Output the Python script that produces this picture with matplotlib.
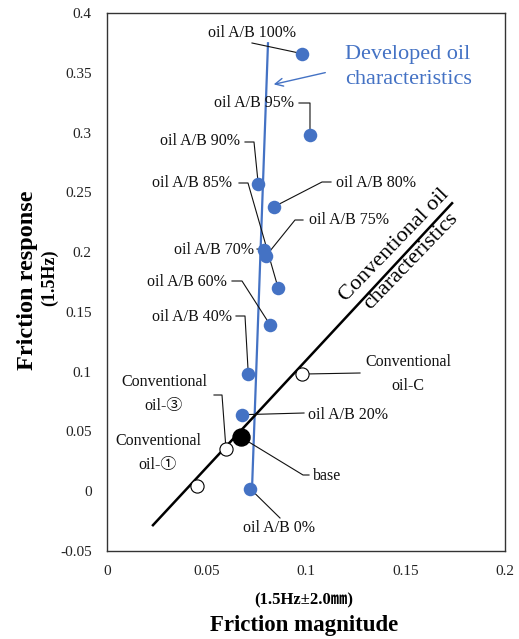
import matplotlib
matplotlib.use("Agg")
import matplotlib.pyplot as plt
import numpy as np

plt.rcParams['font.family'] = ['Liberation Serif', 'Noto Sans CJK JP', 'DejaVu Sans']

# ---------------- data ----------------
dev_labels = ["oil A/B 0%", "oil A/B 20%", "oil A/B 40%", "oil A/B 60%", "oil A/B 70%",
              "oil A/B 75%", "oil A/B 80%", "oil A/B 85%", "oil A/B 90%", "oil A/B 95%",
              "oil A/B 100%"]
dev_x = [0.072, 0.068, 0.071, 0.082, 0.079, 0.080, 0.084, 0.086, 0.076, 0.102, 0.098]
dev_y = [0.002, 0.064, 0.098, 0.139, 0.202, 0.197, 0.238, 0.170, 0.257, 0.298, 0.366]

base_x = [0.0673]
base_y = [0.0452]

conv_labels = ["Conventional\noil-C", "Conventional\noil-③", "Conventional\noil-①"]
conv_x = [0.098, 0.0598, 0.0452]
conv_y = [0.098, 0.0351, 0.0042]

conv_line_x = [0.0231, 0.1734]
conv_line_y = [-0.0284, 0.2409]
dev_line_x = [0.0729, 0.0809]
dev_line_y = [0.0033, 0.3747]

xticks = [0, 0.05, 0.1, 0.15, 0.2]
xticklabels = ["0", "0.05", "0.1", "0.15", "0.2"]
yticks = [-0.05, 0, 0.05, 0.1, 0.15, 0.2, 0.25, 0.3, 0.35, 0.4]
yticklabels = ["-0.05", "0", "0.05", "0.1", "0.15", "0.2", "0.25", "0.3", "0.35", "0.4"]

# ---------------- figure ----------------
W, H = 519, 639
fig = plt.figure(figsize=(W / 100, H / 100), dpi=100)
ax = fig.add_axes([107 / W, 1 - 551 / H, (505 - 107) / W, (551 - 13) / H])
ax.set_xlim(0, 0.2)
ax.set_ylim(-0.05, 0.4)

blue = '#4472C4'

ax.plot(dev_line_x, dev_line_y, color=blue, lw=1.6, zorder=2)
ax.plot(conv_line_x, conv_line_y, color='black', lw=1.8, zorder=2)

ax.scatter(dev_x, dev_y, s=95, color=blue, zorder=4, linewidths=0)
ax.scatter(conv_x, conv_y, s=90, facecolor='white', edgecolor='black', linewidths=0.8, zorder=4)
ax.scatter(base_x, base_y, s=150, color='black', zorder=5)

ax.set_xticks(xticks)
ax.set_xticklabels(xticklabels)
ax.set_yticks(yticks)
ax.set_yticklabels(yticklabels)
ax.tick_params(length=0, labelsize=11, labelcolor='#222222')
ax.tick_params(axis='x', pad=10)
ax.tick_params(axis='y', pad=11)
for sp in ax.spines.values():
    sp.set_color('#333333')
    sp.set_linewidth(1.0)


def img2data(px, py):
    disp = ax.transData.inverted().transform((px, H - py))
    return disp[0], disp[1]


# label layout: text centre (image px), leader vertices (image px) ending at the point
dev_layout = {
    "oil A/B 100%": ((252, 33), [(252, 43)]),
    "oil A/B 95%": ((254, 103), [(299, 103), (310, 103)]),
    "oil A/B 90%": ((200, 141), [(245, 142), (254, 142)]),
    "oil A/B 85%": ((192, 183), [(239, 183), (248, 183)]),
    "oil A/B 80%": ((376, 183), [(331, 182), (322, 182)]),
    "oil A/B 75%": ((349, 220), [(303, 220), (295, 220)]),
    "oil A/B 70%": ((214, 250), [(257, 249)]),
    "oil A/B 60%": ((187, 282), [(232, 281), (242, 281)]),
    "oil A/B 40%": ((192, 317), [(236, 316), (245, 316)]),
    "oil A/B 20%": ((348, 415), [(304, 413)]),
    "oil A/B 0%": ((279, 528), [(280, 518)]),
}
conv_layout = {
    "Conventional\noil-C": ((408, 374), [(360, 373)]),
    "Conventional\noil-③": ((164, 394), [(214, 395), (222, 395)]),
    "Conventional\noil-①": ((158, 453), []),
}
base_layout = ("base", (327, 476), [(309, 475), (303, 475)])

lab_kw = dict(fontsize=11.5, ha='center', va='center', color='#111111', zorder=6)


def draw_label(text, pos, verts, px, py):
    tx, ty = img2data(*pos)
    ax.text(tx, ty, text, linespacing=1.7, **lab_kw)
    if verts:
        pts = [img2data(*v) for v in verts] + [(px, py)]
        xs, ys = zip(*pts)
        ax.plot(xs, ys, color='#111111', lw=0.8, zorder=3)


for lab, x, y in zip(dev_labels, dev_x, dev_y):
    pos, verts = dev_layout[lab]
    draw_label(lab, pos, verts, x, y)
for lab, x, y in zip(conv_labels, conv_x, conv_y):
    pos, verts = conv_layout[lab]
    draw_label(lab, pos, verts, x, y)
draw_label(base_layout[0], base_layout[1], base_layout[2], base_x[0], base_y[0])

# Developed oil annotation with arrow
tx, ty = img2data(345, 67)
ax.text(tx, ty, "Developed oil\ncharacteristics", color=blue, fontsize=16,
        ha='left', va='center', linespacing=1.4, zorder=6)
ax.annotate("", xy=img2data(271, 85), xytext=img2data(328, 72),
            arrowprops=dict(arrowstyle='->', color=blue, lw=1.0, mutation_scale=14))

# Conventional oil characteristics (rotated)
cx, cy = img2data(403, 253)
ax.text(cx, cy, "Conventional oil\ncharacteristics", fontsize=16, rotation=46,
        rotation_mode='anchor', ha='center', va='center', multialignment='center',
        linespacing=1.3, color='black', zorder=6)

# Axis titles
fig.text(304 / W, 1 - 600 / H, "(1.5Hz±2.0㎜)", fontsize=12, fontweight='bold',
         ha='center', va='center')
fig.text(304 / W, 1 - 626 / H, "Friction magnitude", fontsize=16.5, fontweight='bold',
         ha='center', va='center')
fig.text(28 / W, 1 - 280 / H, "Friction response", fontsize=17.5, fontweight='bold',
         ha='center', va='center', rotation=90)
fig.text(50 / W, 1 - 278 / H, "(1.5Hz)", fontsize=13, fontweight='bold',
         ha='center', va='center', rotation=90)

fig.savefig("out.png", dpi=100)
